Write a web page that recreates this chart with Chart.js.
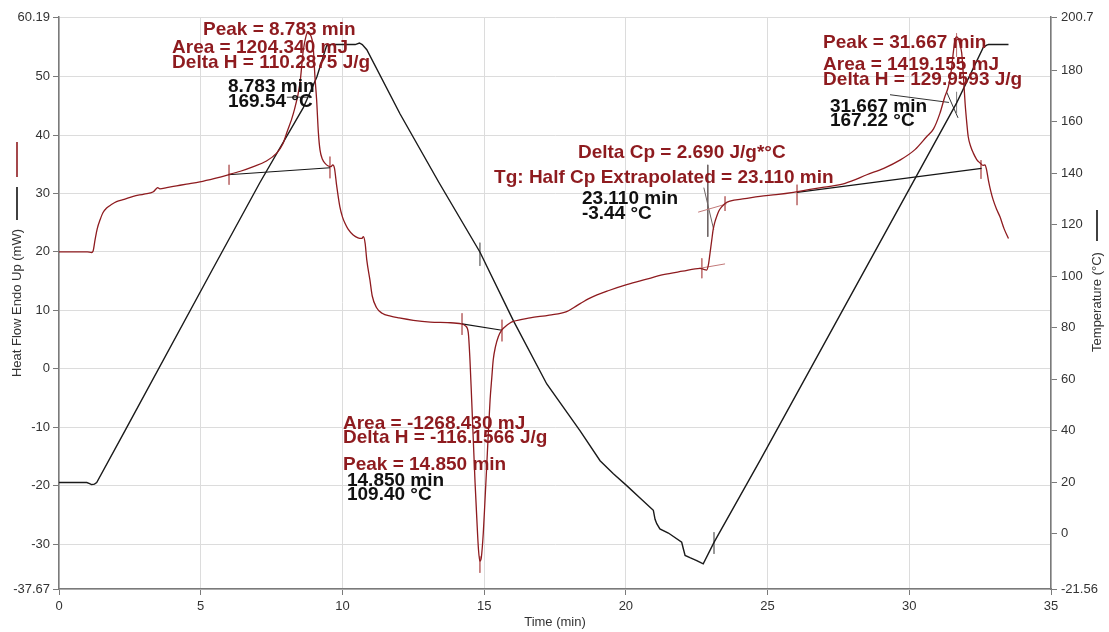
<!DOCTYPE html>
<html>
<head>
<meta charset="utf-8">
<script src="https://cdn.jsdelivr.net/npm/chart.js@4.4.0/dist/chart.umd.min.js"></script>
<style>
  html, body { margin: 0; padding: 0; background: #ffffff; }
  canvas { display: block; }
</style>
</head>
<body>
<canvas id="dsc" width="1109" height="632" style="width:1109px;height:632px"></canvas>
<script>
// ---- DSC run: heat flow (mW) and sample temperature (°C) against time (min) ----
const heatTime = [
  0, 1.0, 1.15, 1.2, 1.27, 1.35, 1.45, 1.55, 1.68, 1.85, 2.03, 2.3, 2.62, 3.0, 3.33, 3.43, 3.48, 3.56, 3.8,
  4.15, 4.5, 4.97, 5.5, 5.97, 6.4, 6.86, 7.3, 7.68, 7.9, 8.03, 8.27, 8.5, 8.62, 8.72, 8.783, 8.85, 8.92,
  8.97, 9.03, 9.09, 9.15, 9.21, 9.3, 9.38, 9.5, 9.6, 9.66, 9.72, 9.8, 9.91, 10.0, 10.09, 10.2, 10.38,
  10.55, 10.68, 10.74, 10.8, 10.86, 10.97, 11.05, 11.2, 11.4, 11.7, 12.0, 12.5, 13.1, 13.7, 14.2, 14.35,
  14.44, 14.5, 14.56, 14.62, 14.68, 14.74, 14.8, 14.85, 14.9, 14.97, 15.03, 15.09, 15.15, 15.21, 15.27,
  15.32, 15.4, 15.5, 15.62, 15.74, 15.9, 16.03, 16.62, 17.3, 17.91, 18.3, 18.73, 19.4, 20.03, 20.7, 21.32,
  22.0, 22.62, 22.75, 22.85, 22.92, 22.97, 23.03, 23.08, 23.14, 23.2, 23.28, 23.38, 23.5, 23.67, 24.2,
  24.73, 25.3, 25.91, 26.5, 27.0, 27.56, 28.0, 28.5, 29.1, 29.67, 30.2, 30.61, 30.85, 31.08, 31.25, 31.38,
  31.48, 31.55, 31.61, 31.667, 31.73, 31.8, 31.85, 31.91, 31.97, 32.03, 32.08, 32.17, 32.26, 32.38, 32.5,
  32.6, 32.67, 32.72, 32.79, 32.87, 32.96, 33.08, 33.2, 33.35, 33.5
];
const heatFlow = [
  20.0, 20.0, 19.9, 20.1, 22.0, 24.0, 25.5, 26.7, 27.5, 28.1, 28.6, 29.0, 29.5, 29.9, 30.3, 30.8, 31.0, 30.8, 31.0,
  31.3, 31.6, 32.0, 32.6, 33.2, 33.8, 34.6, 35.5, 36.9, 38.5, 40.3, 43.7, 48.8, 54.5, 57.0, 57.6, 57.3, 56.5,
  55.0, 50.0, 46.0, 40.5, 37.4, 35.8, 35.2, 34.7, 34.6, 34.9, 34.3, 31.2, 27.7, 26.0, 24.9, 23.9, 22.9,
  22.4, 22.3, 22.6, 21.5, 18.6, 15.2, 12.5, 10.5, 9.5, 9.0, 8.7, 8.3, 8.0, 7.9, 7.7, 7.3,
  6.2, 1.5, -5.3, -12.5, -19.5, -25.5, -30.9, -32.9, -32.3, -28.1, -22.5, -16.7, -10.8, -5.3, -1.5,
  1.5, 3.8, 5.5, 6.6, 7.2, 7.8, 8.1, 8.7, 9.2, 9.8, 10.9, 12.1, 13.4, 14.4, 15.3, 16.1,
  16.7, 17.2, 17.0, 16.9, 18.0, 19.8, 22.0, 23.8, 25.1, 26.0, 27.0, 27.7, 28.3, 28.7, 29.1,
  29.5, 29.8, 30.2, 30.7, 31.1, 31.5, 32.2, 33.2, 34.3, 35.7, 37.5, 39.7, 41.0, 43.7, 46.5, 48.3,
  51.0, 54.0, 56.2, 56.8, 56.5, 55.2, 54.0, 50.0, 45.4, 42.0, 39.7, 38.0, 36.9, 35.8, 35.2,
  34.8, 34.9, 34.2, 32.3, 30.5, 28.9, 27.3, 26.0, 23.9, 22.3
];

const tempTime = [
  0, 0.98, 1.08, 1.15, 1.25, 1.33, 2.33, 5.39, 7.09, 8.62, 8.783, 9.1, 9.44, 9.6, 10.45, 10.6, 10.7,
  10.86, 12.03, 13.4, 14.85, 16.03, 17.21, 18.38, 19.09, 19.56, 20.03, 20.5, 20.91, 20.97, 21.03, 21.09,
  21.2, 21.5, 21.97, 22.03, 22.09, 22.26, 22.5, 22.73, 23.11, 24.73, 31.667, 32.61, 32.73, 32.8, 33.5
];
const temperature = [
  19.8, 19.8, 19.4, 19.0, 19.2, 19.8, 40.0, 102.1, 136.4, 165.5, 169.54, 177.5, 189.5, 190.0, 190.0, 190.6, 190.0,
  188.0, 163.1, 136.5, 109.4, 82.7, 58.1, 40.0, 28.3, 23.2, 18.6, 13.8, 9.6, 9.0, 5.5, 3.8,
  1.8, 0.2, -3.4, -6.0, -8.5, -9.4, -10.5, -11.8, -3.44, 28.3, 167.22, 188.9, 189.8, 190.0, 190.0
];

// axis tick values
const timeTicks = [0, 5, 10, 15, 20, 25, 30, 35];
const heatTicks = [60.19, 50, 40, 30, 20, 10, 0, -10, -20, -30, -37.67];
const tempTicks = [200.7, 180, 160, 140, 120, 100, 80, 60, 40, 20, 0, -21.56];

// peak integration baselines (time, mW)
const peakBaselines = [
  [[5.97, 33.2], [9.56, 34.4]],
  [[14.22, 7.7], [15.63, 6.6]],
  [[26.04, 30.2], [32.55, 34.3]]
];
// limit / peak markers on the heat flow signal: [time, mW top, mW bottom]
const heatMarkers = [
  [6.0, 34.9, 31.5], [9.56, 36.3, 32.6],
  [14.22, 9.5, 5.8], [15.63, 8.4, 4.7], [14.85, -32.1, -34.9],
  [22.68, 18.9, 15.5], [23.5, 29.5, 27.0], [26.04, 31.5, 28.0],
  [32.53, 35.7, 32.5], [31.667, 57.4, 53.4]
];
// glass transition tangent construction (time, mW)
const tgTangents = [
  [[22.55, 17.15], [23.5, 17.95]],
  [[22.55, 26.8], [23.55, 28.2]]
];
const tgGuides = [
  [[22.75, 31.0], [23.1, 23.8]],
  [[22.89, 34.9], [22.89, 22.6]]
];
// markers on the temperature signal: [time, °C top, °C bottom]
const tempMarkers = [
  [14.85, 113.0, 104.0], [23.11, 0.5, -7.9], [31.667, 171.6, 163.2]
];
// leader lines to the temperature readouts (time, °C)
const tempLeaders = [
  [[8.04, 169.54], [8.783, 169.54]],
  [[29.32, 170.5], [31.4, 167.5]],
  [[31.32, 171.5], [31.72, 161.5]]
];

const RED = '#8e1b1f';
const RED_LIGHT = '#c27878';
const INK = '#111111';

const notes = [
  { text: 'Peak = 8.783 min', t: 5.08, v: 57.95, color: RED },
  { text: 'Area = 1204.340 mJ', t: 3.99, v: 54.85, color: RED },
  { text: 'Delta H = 110.2875 J/g', t: 3.99, v: 52.3, color: RED },
  { text: '8.783 min', t: 5.96, v: 48.2, color: INK },
  { text: '169.54 °C', t: 5.96, v: 45.7, color: INK },
  { text: 'Delta Cp = 2.690 J/g*°C', t: 18.31, v: 36.9, color: RED },
  { text: 'Tg: Half Cp Extrapolated = 23.110 min', t: 15.35, v: 32.75, color: RED },
  { text: '23.110 min', t: 18.45, v: 29.1, color: INK },
  { text: '-3.44 °C', t: 18.45, v: 26.6, color: INK },
  { text: 'Area = -1268.430 mJ', t: 10.02, v: -9.4, color: RED },
  { text: 'Delta H = -116.1566 J/g', t: 10.02, v: -11.75, color: RED },
  { text: 'Peak = 14.850 min', t: 10.02, v: -16.4, color: RED },
  { text: '14.850 min', t: 10.16, v: -19.1, color: INK },
  { text: '109.40 °C', t: 10.16, v: -21.6, color: INK },
  { text: 'Peak = 31.667 min', t: 26.96, v: 55.7, color: RED },
  { text: 'Area = 1419.155 mJ', t: 26.96, v: 52.0, color: RED },
  { text: 'Delta H = 129.9593 J/g', t: 26.96, v: 49.4, color: RED },
  { text: '31.667 min', t: 27.2, v: 44.9, color: INK },
  { text: '167.22 °C', t: 27.2, v: 42.4, color: INK }
];

function line(points, axis, color, width) {
  return {
    data: points.map(([x, y]) => ({ x, y })),
    yAxisID: axis,
    borderColor: color,
    borderWidth: width,
    pointRadius: 0,
    showLine: true,
    fill: false,
    tension: 0
  };
}
function marker([t, a, b], axis, color) {
  return line([[t, a], [t, b]], axis, color, 1);
}

const datasets = [
  {
    label: 'Heat Flow',
    data: heatTime.map((t, i) => ({ x: t, y: heatFlow[i] })),
    yAxisID: 'y',
    borderColor: RED,
    borderWidth: 1.3,
    pointRadius: 0,
    showLine: true,
    cubicInterpolationMode: 'monotone'
  },
  {
    label: 'Temperature',
    data: tempTime.map((t, i) => ({ x: t, y: temperature[i] })),
    yAxisID: 'yT',
    borderColor: '#1a1a1a',
    borderWidth: 1.4,
    pointRadius: 0,
    showLine: true,
    tension: 0
  },
  ...peakBaselines.map(s => line(s, 'y', '#151515', 1.2)),
  ...heatMarkers.map(m => marker(m, 'y', RED_LIGHT)),
  ...tgTangents.map(s => line(s, 'y', RED_LIGHT, 1)),
  ...tgGuides.map(s => line(s, 'y', '#6e6464', 1)),
  ...tempMarkers.map(m => marker(m, 'yT', '#8a8a8a')),
  ...tempLeaders.map(s => line(s, 'yT', '#333333', 1))
];

const fmt = v => String(v);
const tickFont = { family: '"Liberation Sans", Arial, sans-serif', size: 13 };

const decorations = {
  id: 'decorations',
  afterDraw(chart) {
    const { ctx, scales } = chart;
    const x = scales.x, y = scales.y;
    ctx.save();
    // axis titles with their series keys
    ctx.font = '13px "Liberation Sans", Arial, sans-serif';
    ctx.fillStyle = '#333333';
    ctx.textAlign = 'center';
    ctx.textBaseline = 'middle';
    ctx.fillText('Time (min)', (chart.chartArea.left + chart.chartArea.right) / 2, 622);

    ctx.save();
    ctx.translate(17, 303);
    ctx.rotate(-Math.PI / 2);
    ctx.fillText('Heat Flow Endo Up (mW)', 0, 0);
    ctx.restore();

    ctx.save();
    ctx.translate(1097, 302);
    ctx.rotate(-Math.PI / 2);
    ctx.fillText('Temperature (°C)', 0, 0);
    ctx.restore();

    ctx.lineWidth = 1.6;
    ctx.strokeStyle = RED;
    ctx.beginPath(); ctx.moveTo(17, 142); ctx.lineTo(17, 177); ctx.stroke();
    ctx.strokeStyle = '#111111';
    ctx.beginPath(); ctx.moveTo(17, 187); ctx.lineTo(17, 220); ctx.stroke();
    ctx.beginPath(); ctx.moveTo(1097, 210); ctx.lineTo(1097, 241); ctx.stroke();

    // analysis readouts
    ctx.font = 'bold 19px "Liberation Sans", Arial, sans-serif';
    ctx.textAlign = 'left';
    ctx.textBaseline = 'middle';
    notes.forEach(n => {
      ctx.fillStyle = n.color;
      ctx.fillText(n.text, x.getPixelForValue(n.t), y.getPixelForValue(n.v));
    });
    ctx.restore();
  }
};

new Chart(document.getElementById('dsc'), {
  type: 'scatter',
  data: { datasets },
  options: {
    responsive: false,
    animation: false,
    devicePixelRatio: 1,
    layout: { padding: { top: 17, left: 0, right: 0, bottom: 0 } },
    plugins: { legend: { display: false }, tooltip: { enabled: false } },
    scales: {
      x: {
        type: 'linear',
        position: 'bottom',
        min: 0, max: 35,
        afterBuildTicks: s => { s.ticks = timeTicks.map(v => ({ value: v })); },
        afterFit: s => { s.height = 43; },
        grid: { color: '#dcdcdc', lineWidth: 1, tickLength: 6, tickColor: '#7a7a7a' },
        border: { color: '#7a7a7a', width: 1.5 },
        ticks: { font: tickFont, color: '#333333', padding: 4, maxRotation: 0, callback: v => fmt(v) }
      },
      y: {
        type: 'linear',
        position: 'left',
        min: -37.67, max: 60.19,
        afterBuildTicks: s => { s.ticks = heatTicks.map(v => ({ value: v })); },
        afterFit: s => { s.width = 59; },
        grid: { color: '#dcdcdc', lineWidth: 1, tickLength: 6, tickColor: '#7a7a7a' },
        border: { color: '#7a7a7a', width: 1.5 },
        ticks: { font: tickFont, color: '#333333', padding: 3, callback: v => fmt(v) }
      },
      yT: {
        type: 'linear',
        position: 'right',
        min: -21.56, max: 200.7,
        afterBuildTicks: s => { s.ticks = tempTicks.map(v => ({ value: v })); },
        afterFit: s => { s.width = 58; },
        grid: { drawOnChartArea: false, tickLength: 6, tickColor: '#7a7a7a' },
        border: { color: '#7a7a7a', width: 1.5 },
        ticks: { font: tickFont, color: '#333333', padding: 4, callback: v => fmt(v) }
      }
    }
  },
  plugins: [decorations]
});
</script>
</body>
</html>
